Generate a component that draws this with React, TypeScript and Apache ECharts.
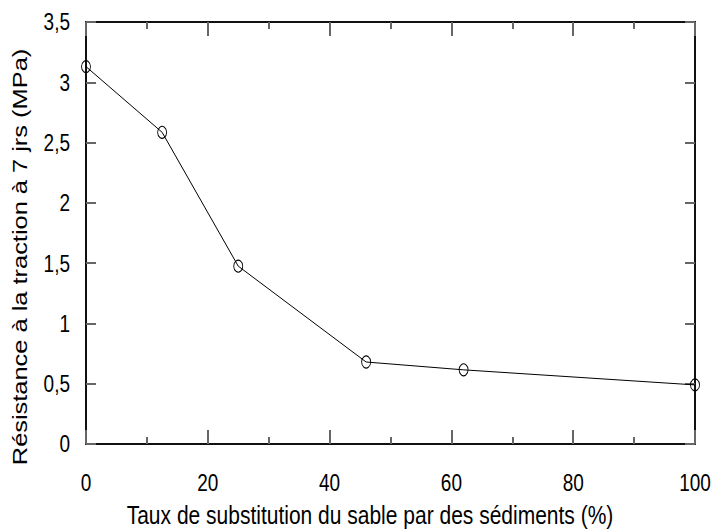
import React, { useEffect, useRef } from "react";
import * as echarts from "echarts";

const substitution = [0, 12.5, 25, 46, 62, 100];
const resistance = [3.13, 2.585, 1.475, 0.68, 0.615, 0.49];
const xTickLabels = [0, 20, 40, 60, 80, 100];
const yTickLabels = [0, 0.5, 1, 1.5, 2, 2.5, 3, 3.5];
const xTitle = "Taux de substitution du sable par des sédiments (%)";
const yTitle = "Résistance à la traction à 7 jrs (MPa)";

const FONT = "'Liberation Sans', Arial, sans-serif";

export default function App() {
  const ref = useRef<HTMLDivElement>(null);
  useEffect(() => {
    if (!ref.current) return;
    const chart = echarts.init(ref.current, undefined, { renderer: "svg" });
    const fmtY = (v: number) => String(v).replace(".", ",");
    const lineStyle = { color: "#111", width: 2 };
    const tickStyle = { color: "#666", width: 2 };
    const xAxisBase = (position: string, interval: number, len: number, showLine: boolean) => ({
      type: "value",
      min: 0,
      max: 100,
      interval,
      position,
      axisLine: { show: showLine, onZero: false, lineStyle },
      axisTick: { show: true, inside: true, length: len, lineStyle: tickStyle },
      splitLine: { show: false },
      axisLabel: { show: false },
    });
    const yAxisBase = (position: string) => ({
      type: "value",
      min: 0,
      max: 3.5,
      interval: 0.5,
      position,
      axisLine: { show: true, onZero: false, lineStyle },
      axisTick: { show: true, inside: true, length: 10, lineStyle: tickStyle },
      splitLine: { show: false },
      axisLabel: { show: false },
    });
    chart.setOption({
      animation: false,
      backgroundColor: "#fff",
      grid: { left: 86, right: 19, top: 22, bottom: 85, containLabel: false, outerBoundsMode: "none" },
      xAxis: [
        xAxisBase("bottom", 20, 14, true),
        xAxisBase("top", 20, 14, true),
        xAxisBase("bottom", 10, 7, false),
        xAxisBase("top", 10, 7, false),
      ],
      yAxis: [yAxisBase("left"), yAxisBase("right")],
      series: [
        {
          type: "line",
          xAxisIndex: 0,
          yAxisIndex: 0,
          data: substitution.map((x, i) => [x, resistance[i]]),
          symbol: "circle",
          symbolSize: [9, 12],
          showSymbol: true,
          clip: false,
          z: 5,
          lineStyle: { color: "#000", width: 1 },
          itemStyle: { color: "rgba(255,255,255,0)", borderColor: "#000", borderWidth: 1 },
        },
      ],
    });

    const labelFont = `19px ${FONT}`;
    const xLabelY = 483;
    const yLabelRight = 70;
    const graphics: any[] = [];
    xTickLabels.forEach((v) => {
      const px = chart.convertToPixel({ xAxisIndex: 0 }, v) as number;
      graphics.push({
        type: "text",
        x: px,
        y: xLabelY,
        scaleY: 1.3,
        style: { text: String(v), font: labelFont, fill: "#000", textAlign: "center", textVerticalAlign: "middle" },
      });
    });
    yTickLabels.forEach((v) => {
      const py = chart.convertToPixel({ yAxisIndex: 0 }, v) as number;
      graphics.push({
        type: "text",
        x: yLabelRight,
        y: py,
        scaleY: 1.3,
        style: { text: fmtY(v), font: labelFont, fill: "#000", textAlign: "right", textVerticalAlign: "middle" },
      });
    });
    graphics.push({
      type: "text",
      x: 370,
      y: 515,
      scaleY: 1.2,
      style: {
        text: xTitle,
        font: `21px ${FONT}`,
        fill: "#000",
        textAlign: "center",
        textVerticalAlign: "middle",
      },
    });
    graphics.push({
      type: "text",
      x: 20,
      y: 257,
      rotation: Math.PI / 2,
      scaleX: 1.27,
      style: {
        text: yTitle,
        font: `20px ${FONT}`,
        fill: "#000",
        textAlign: "center",
        textVerticalAlign: "middle",
      },
    });
    chart.setOption({ graphic: graphics });
    return () => chart.dispose();
  }, []);
  return <div ref={ref} style={{ width: 714, height: 529, position: "absolute", left: 0, top: 0 }} />;
}
